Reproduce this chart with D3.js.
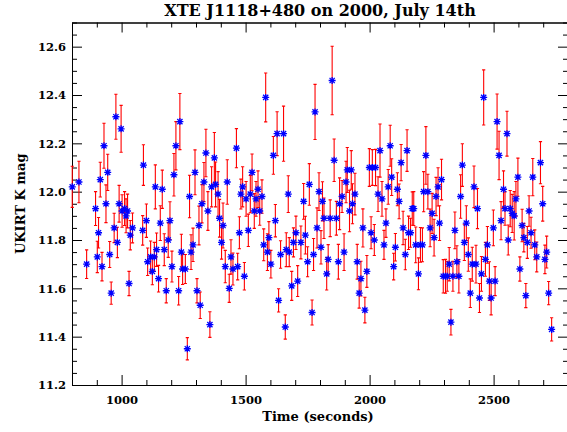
<!DOCTYPE html>
<html>
<head>
<meta charset="utf-8">
<script src="https://cdn.jsdelivr.net/npm/d3@7"></script>
<style>
  html, body { margin: 0; padding: 0; background: #fff; }
  svg { display: block; }
  text { font-family: "DejaVu Serif", "Liberation Serif", serif; fill: #000; }
</style>
</head>
<body>
<svg id="chart" width="567" height="432"></svg>
<script>
// ---- data ----
const time = [801,828,859,895,902,907,914,921,929,937,944,952,958,970,977,983,990,998,1002,1012,1018,1024,1030,1035,1044,1085,1088,1100,1105,1117,1124,1132,1136,1141,1149,1156,1164,1172,1180,1188,1195,1203,1211,1219,1230,1235,1241,1246,1257,1265,1274,1280,1288,1296,1304,1312,1317,1324,1332,1340,1348,1356,1363,1374,1379,1389,1395,1403,1409,1418,1426,1434,1441,1449,1463,1468,1475,1481,1488,1495,1502,1511,1519,1526,1535,1542,1550,1557,1566,1573,1581,1588,1594,1602,1612,1620,1627,1633,1641,1653,1660,1664,1672,1676,1686,1693,1703,1710,1723,1734,1741,1750,1757,1768,1774,1780,1788,1796,1804,1810,1816,1827,1833,1841,1849,1857,1866,1874,1879,1889,1897,1905,1910,1919,1926,1931,1941,1950,1958,1965,1973,1981,1989,1999,2006,2011,2019,2024,2034,2042,2050,2058,2066,2075,2083,2089,2097,2104,2112,2119,2127,2135,2144,2151,2157,2165,2172,2178,2186,2197,2205,2213,2218,2227,2235,2244,2252,2260,2268,2276,2282,2290,2297,2306,2313,2321,2328,2336,2344,2352,2360,2367,2374,2382,2390,2398,2406,2414,2421,2429,2435,2443,2451,2460,2467,2475,2483,2490,2499,2506,2514,2522,2530,2540,2546,2554,2559,2567,2575,2583,2590,2598,2606,2615,2622,2630,2636,2643,2651,2658,2666,2674,2689,2698,2707,2714,2722,2734];
const kmag = [12.02,12.04,11.70,11.93,11.73,11.83,12.05,11.69,12.19,11.95,12.08,11.74,11.58,11.85,12.31,11.79,11.95,12.26,11.92,11.93,11.90,11.92,11.62,11.82,11.85,11.84,12.11,11.88,11.71,11.73,11.67,11.73,12.02,11.76,11.64,11.87,12.01,11.76,11.59,11.80,11.88,11.69,12.07,12.19,11.59,12.29,11.75,11.68,11.68,11.35,11.98,11.75,11.78,12.08,11.59,11.86,11.53,11.95,12.04,12.16,11.92,11.45,12.02,12.14,12.03,11.99,11.89,11.79,11.86,11.69,12.04,11.60,11.73,11.68,12.18,11.69,11.83,11.99,12.02,11.65,11.97,11.84,11.99,12.08,11.92,11.97,12.01,11.92,11.98,11.78,12.39,11.75,11.81,11.70,12.15,11.88,12.24,11.55,11.74,12.24,11.44,11.76,11.99,11.75,11.61,11.79,11.83,11.63,11.79,11.96,11.82,11.71,12.03,11.50,11.74,12.33,11.85,12.00,11.77,11.96,11.89,11.66,11.72,11.89,12.46,12.13,11.89,11.71,11.95,11.98,11.75,12.04,12.09,11.92,12.09,11.95,11.99,11.71,11.58,11.64,11.85,11.51,11.67,12.10,11.83,12.10,11.80,12.10,11.99,12.17,11.97,11.78,11.87,12.02,12.19,12.06,11.69,11.77,12.01,11.96,12.12,11.85,11.74,12.17,11.83,11.83,11.93,11.93,11.78,11.66,11.78,11.78,12.00,12.15,12.00,11.85,11.91,11.81,11.98,12.02,11.87,12.05,11.65,11.65,11.65,11.70,11.46,11.65,11.84,11.71,11.65,11.98,12.11,11.79,11.87,11.74,11.58,11.70,12.02,11.70,11.93,11.56,11.66,12.39,11.72,11.78,11.63,11.56,11.85,11.63,12.29,12.15,11.88,12.01,11.93,12.24,11.80,11.93,11.91,11.90,11.97,12.06,11.68,11.86,11.81,11.57,11.79,11.92,11.83,12.06,11.78,11.73,12.12,11.95,11.72,11.75,11.58,11.43];
const kerr = [0.085,0.086,0.059,0.070,0.065,0.063,0.072,0.059,0.093,0.078,0.075,0.054,0.046,0.061,0.093,0.063,0.076,0.097,0.067,0.070,0.070,0.070,0.050,0.061,0.062,0.061,0.084,0.069,0.057,0.066,0.055,0.060,0.091,0.069,0.055,0.072,0.079,0.066,0.050,0.072,0.078,0.064,0.088,0.100,0.059,0.116,0.074,0.064,0.060,0.046,0.088,0.072,0.069,0.093,0.050,0.080,0.055,0.079,0.081,0.098,0.080,0.053,0.083,0.105,0.093,0.093,0.078,0.069,0.093,0.067,0.092,0.058,0.071,0.066,0.081,0.055,0.066,0.062,0.083,0.057,0.072,0.067,0.077,0.076,0.072,0.072,0.076,0.059,0.069,0.066,0.101,0.076,0.066,0.057,0.078,0.067,0.091,0.048,0.057,0.114,0.050,0.070,0.076,0.060,0.060,0.060,0.069,0.064,0.068,0.074,0.078,0.062,0.086,0.052,0.066,0.114,0.083,0.078,0.069,0.081,0.084,0.067,0.061,0.076,0.142,0.088,0.070,0.072,0.107,0.066,0.076,0.086,0.093,0.086,0.080,0.083,0.086,0.072,0.062,0.072,0.079,0.053,0.066,0.078,0.066,0.074,0.064,0.075,0.072,0.110,0.072,0.060,0.059,0.072,0.085,0.076,0.055,0.057,0.068,0.072,0.075,0.069,0.063,0.086,0.069,0.060,0.069,0.070,0.074,0.066,0.072,0.070,0.083,0.119,0.072,0.078,0.083,0.076,0.079,0.079,0.072,0.084,0.069,0.070,0.062,0.069,0.053,0.062,0.076,0.066,0.069,0.090,0.088,0.075,0.072,0.069,0.059,0.070,0.086,0.078,0.083,0.060,0.072,0.114,0.070,0.076,0.080,0.070,0.074,0.060,0.114,0.100,0.079,0.076,0.069,0.093,0.062,0.075,0.079,0.100,0.072,0.079,0.050,0.067,0.059,0.050,0.066,0.063,0.064,0.077,0.062,0.062,0.087,0.072,0.059,0.066,0.048,0.048];
const xMajorTicks = [1000, 1500, 2000, 2500];
const yMajorTicks = [11.2, 11.4, 11.6, 11.8, 12.0, 12.2, 12.4, 12.6];
const titleText = "XTE J1118+480 on 2000, July 14th";
const xLabel = "Time (seconds)";
const yLabel = "UKIRT K mag";

// ---- layout ----
const svg = d3.select("#chart");
const L = 72, R = 568, T = 22.5, B = 385;
const x = d3.scaleLinear().domain([800, 2800]).range([L, R]);
const y = d3.scaleLinear().domain([11.2, 12.7]).range([B, T]);

const xMinor = d3.range(800, 2801, 100).filter(v => !xMajorTicks.includes(v));
const yMinor = d3.range(11.2, 12.701, 0.05).map(v => +v.toFixed(2))
  .filter(v => !yMajorTicks.some(t => Math.abs(t - v) < 1e-6));

function styleAxis(g) {
  g.select(".domain").attr("stroke", "#000").attr("stroke-width", 1);
  g.selectAll(".tick line").attr("stroke", "#000").attr("stroke-width", 1);
  g.selectAll("text").attr("font-size", 11.5).attr("font-weight", "bold").attr("fill", "#000")
    .attr("font-family", "DejaVu Serif, serif");
}

// bottom
svg.append("g").attr("transform", `translate(0,${B})`)
  .call(d3.axisBottom(x).tickValues(xMajorTicks).tickFormat(d3.format("d"))
    .tickSizeInner(-10).tickSizeOuter(0).tickPadding(11))
  .call(styleAxis);
svg.append("g").attr("transform", `translate(0,${B})`)
  .call(d3.axisBottom(x).tickValues(xMinor).tickFormat("").tickSizeInner(-5).tickSizeOuter(0))
  .call(styleAxis);
// top
svg.append("g").attr("transform", `translate(0,${T})`)
  .call(d3.axisTop(x).tickValues(xMajorTicks).tickFormat("").tickSizeInner(-10).tickSizeOuter(0))
  .call(styleAxis);
svg.append("g").attr("transform", `translate(0,${T})`)
  .call(d3.axisTop(x).tickValues(xMinor).tickFormat("").tickSizeInner(-5).tickSizeOuter(0))
  .call(styleAxis);
// left
svg.append("g").attr("transform", `translate(${L},0)`)
  .call(d3.axisLeft(y).tickValues(yMajorTicks).tickFormat(d3.format(".1f"))
    .tickSizeInner(-10).tickSizeOuter(0).tickPadding(6))
  .call(styleAxis);
svg.append("g").attr("transform", `translate(${L},0)`)
  .call(d3.axisLeft(y).tickValues(yMinor).tickFormat("").tickSizeInner(-5).tickSizeOuter(0))
  .call(styleAxis);
// right
svg.append("g").attr("transform", `translate(${R},0)`)
  .call(d3.axisRight(y).tickValues(yMajorTicks).tickFormat("").tickSizeInner(-10).tickSizeOuter(0))
  .call(styleAxis);
svg.append("g").attr("transform", `translate(${R},0)`)
  .call(d3.axisRight(y).tickValues(yMinor).tickFormat("").tickSizeInner(-5).tickSizeOuter(0))
  .call(styleAxis);

// ---- data marks ----
const data = time.map((t, i) => ({ t, m: kmag[i], e: kerr[i] }));

const bars = svg.append("g").attr("stroke", "#ff0000").attr("stroke-width", 1.1).attr("fill", "none");
bars.selectAll("path").data(data).join("path")
  .attr("d", d => {
    const cx = x(d.t), y1 = y(d.m + d.e), y2 = y(d.m - d.e);
    return `M${cx},${y1}V${y2}M${cx - 1.6},${y1}H${cx + 1.6}M${cx - 1.6},${y2}H${cx + 1.6}`;
  });

const stars = svg.append("g").attr("stroke", "#0000ff").attr("stroke-width", 1.3).attr("fill", "none");
stars.selectAll("path").data(data).join("path")
  .attr("transform", d => `translate(${x(d.t)},${y(d.m)})`)
  .attr("d", "M-3.5,0H3.5M0,-3.5V3.5M-2.6,-2.6L2.6,2.6M-2.6,2.6L2.6,-2.6");

// ---- titles ----
svg.append("text").attr("x", (L + R) / 2).attr("y", 16).attr("text-anchor", "middle")
  .attr("font-size", 16).attr("font-weight", "bold").text(titleText);
svg.append("text").attr("x", (L + R) / 2 - 2).attr("y", 421).attr("text-anchor", "middle")
  .attr("font-size", 13).attr("font-weight", "bold").text(xLabel);
svg.append("text").attr("transform", `translate(25,${(T + B) / 2}) rotate(-90)`)
  .attr("text-anchor", "middle").attr("font-size", 13).attr("font-weight", "bold").text(yLabel);
</script>
</body>
</html>
